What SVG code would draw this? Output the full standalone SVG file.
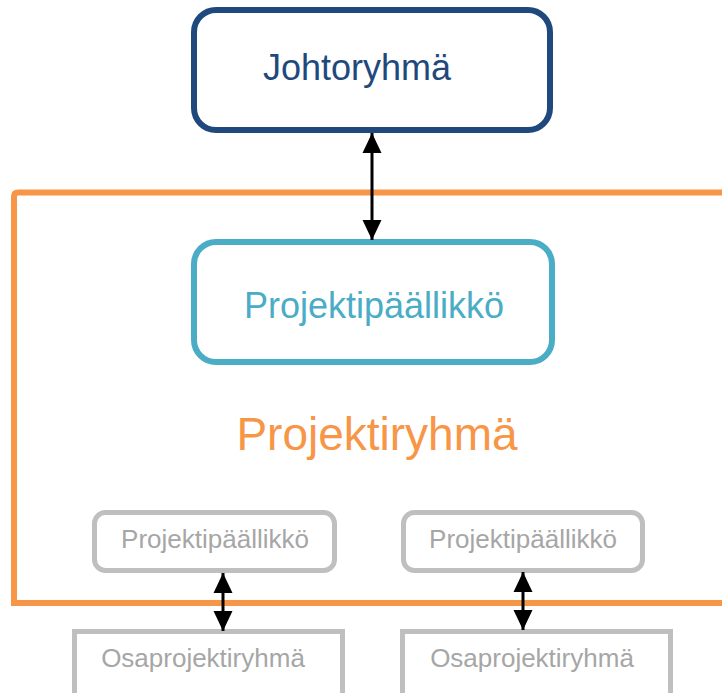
<svg xmlns="http://www.w3.org/2000/svg" width="722" height="693" viewBox="0 0 722 693">
<defs>
<style>
text{font-family:"Liberation Sans",Arial,sans-serif;text-anchor:middle}
.conn{stroke:#000;stroke-width:3;fill:none}
.gray{fill:#fff;stroke:#bfbfbf;stroke-width:5}
.gt{font-size:26px;fill:#a6a6a6}
</style>
<marker id="ah" viewBox="0 0 20 20" refX="20" refY="10" markerWidth="20" markerHeight="20" markerUnits="userSpaceOnUse" orient="auto-start-reverse">
<path d="M0,0.5 L20,10 L0,19.5 Z" fill="#000"/>
</marker>
</defs>
<rect width="722" height="693" fill="#fff"/>
<g id="projektiryhma">
<path d="M730,192.5 H18 Q14,192.5 14,196.5 V603 H730" fill="none" stroke="#f79646" stroke-width="6"/>
<text x="377" y="450" font-size="46" fill="#f79646">Projektiryhmä</text>
</g>
<g id="johtoryhma">
<rect x="194" y="10" width="356" height="120" rx="22" fill="#fff" stroke="#1f497d" stroke-width="6"/>
<text x="357" y="80" font-size="36" fill="#1f497d">Johtoryhmä</text>
</g>
<g id="projektipaallikko">
<rect x="194" y="242" width="358" height="120" rx="22" fill="#fff" stroke="#4bacc6" stroke-width="6"/>
<text x="374" y="318" font-size="36" fill="#4bacc6">Projektipäällikkö</text>
</g>
<g id="pp-left">
<rect class="gray" x="94.5" y="512.5" width="240" height="58" rx="11"/>
<text class="gt" x="215" y="548">Projektipäällikkö</text>
</g>
<g id="pp-right">
<rect class="gray" x="403.5" y="512.5" width="239" height="58" rx="11"/>
<text class="gt" x="523" y="548">Projektipäällikkö</text>
</g>
<g id="osa-left">
<rect class="gray" x="74.5" y="631.5" width="268" height="70"/>
<text class="gt" x="203" y="667">Osaprojektiryhmä</text>
</g>
<g id="osa-right">
<rect class="gray" x="402.5" y="631.5" width="268" height="70"/>
<text class="gt" x="532" y="667">Osaprojektiryhmä</text>
</g>
<g id="connectors">
<line class="conn" x1="372" y1="133" x2="372" y2="240" marker-start="url(#ah)" marker-end="url(#ah)"/>
<line class="conn" x1="223" y1="573" x2="223" y2="631" marker-start="url(#ah)" marker-end="url(#ah)"/>
<line class="conn" x1="523" y1="572" x2="523" y2="630" marker-start="url(#ah)" marker-end="url(#ah)"/>
</g>
</svg>
